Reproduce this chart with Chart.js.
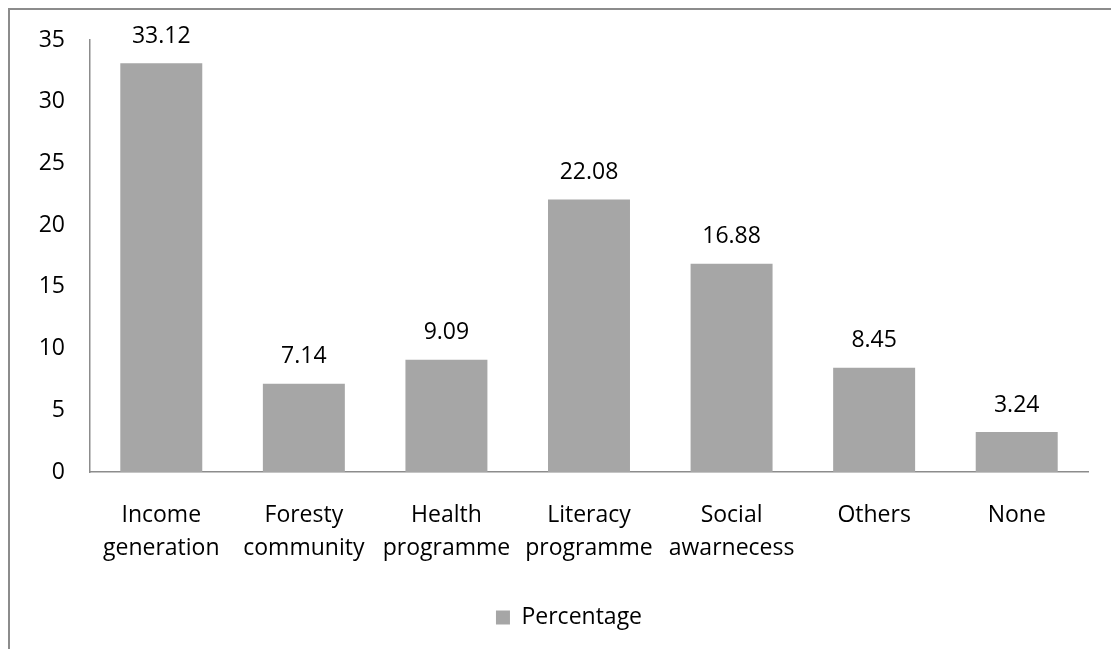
<!DOCTYPE html>
<html>
<head>
<meta charset="utf-8">
<script src="https://cdn.jsdelivr.net/npm/chart.js@4"></script>
<style>
  html, body { margin: 0; padding: 0; background: #fff; }
  #wrap { position: relative; width: 1111px; height: 649px; overflow: hidden; }
  #frame { position: absolute; left: 8px; top: 8px; width: 1200px; height: 700px;
           border-top: 2px solid #8c8c8c; border-left: 2px solid #8c8c8c; }
  canvas { position: absolute; left: 0; top: 0; }
</style>
</head>
<body>
<div id="wrap">
  <div id="frame"></div>
  <canvas id="chart" width="1111" height="649"></canvas>
</div>
<script>
const categories = [
  ["Income", "generation"],
  ["Foresty", "community"],
  ["Health", "programme"],
  ["Literacy", "programme"],
  ["Social", "awarnecess"],
  "Others",
  "None"
];
const percentage = [33.12, 7.14, 9.09, 22.08, 16.88, 8.45, 3.24];
const yTicks = [0, 5, 10, 15, 20, 25, 30, 35];

const FONT = "'Open Sans', sans-serif";
const SIZE = 23;

// draws the value above each bar
const barValues = {
  id: "barValues",
  afterDatasetsDraw(chart) {
    const ctx = chart.ctx;
    ctx.save();
    ctx.font = SIZE + "px " + FONT;
    ctx.fillStyle = "#000";
    ctx.textAlign = "center";
    ctx.textBaseline = "middle";
    chart.getDatasetMeta(0).data.forEach((bar, i) => {
      ctx.fillText(percentage[i].toFixed(2), bar.x, bar.y - 27);
    });
    ctx.restore();
  }
};

// nudge the legend a bit right, like the original
const legendShift = {
  id: "legendShift",
  afterLayout(chart) {
    chart.legend.left += 20;
    chart.legend.right += 20;
  }
};

new Chart(document.getElementById("chart"), {
  type: "bar",
  data: {
    labels: categories,
    datasets: [{
      label: "Percentage",
      data: percentage,
      backgroundColor: "#a6a6a6",
      borderWidth: 0,
      barPercentage: 0.575,
      categoryPercentage: 1
    }]
  },
  options: {
    responsive: false,
    animation: false,
    layout: { padding: { left: 10, top: 40, right: 23, bottom: 10 } },
    plugins: {
      tooltip: { enabled: false },
      legend: {
        position: "bottom",
        labels: {
          font: { family: FONT, size: SIZE },
          color: "#000",
          boxWidth: 14,
          boxHeight: 14,
          padding: 10
        }
      }
    },
    scales: {
      x: {
        grid: { display: false, drawTicks: false },
        border: { display: true, color: "#8c8c8c", width: 1.5 },
        ticks: {
          font: { family: FONT, size: SIZE, lineHeight: 1.43 },
          color: "#000",
          padding: 27,
          maxRotation: 0,
          autoSkip: false
        },
        afterFit(scale) { scale.height = 124; }
      },
      y: {
        min: 0,
        max: 35,
        afterBuildTicks(scale) { scale.ticks = yTicks.map(v => ({ value: v })); },
        grid: { display: false, drawTicks: false },
        border: { display: true, color: "#8c8c8c", width: 1.5 },
        ticks: {
          font: { family: FONT, size: SIZE },
          color: "#000",
          padding: 25
        },
        afterFit(scale) { scale.width = 80; }
      }
    }
  },
  plugins: [barValues, legendShift]
});
</script>
</body>
</html>
